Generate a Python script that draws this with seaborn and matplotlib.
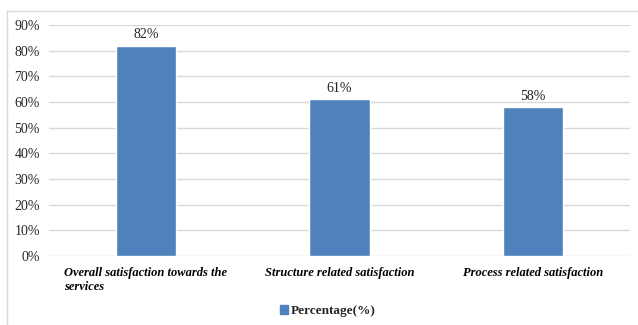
import matplotlib
matplotlib.use("Agg")
import matplotlib.pyplot as plt
import pandas as pd
import seaborn as sns
from matplotlib.lines import Line2D
from matplotlib.ticker import PercentFormatter

categories = ["Overall satisfaction towards the\nservices",
              "Structure related satisfaction",
              "Process related satisfaction"]
percentages = [82, 61, 58]
series_name = "Percentage(%)"
bar_color = "#4F81BD"

df = pd.DataFrame({"category": categories, "value": percentages,
                   "series": series_name})

sns.set_theme(style="white")
plt.rcParams["font.family"] = ["Liberation Serif", "DejaVu Serif"]

fig = plt.figure(figsize=(6.38, 3.25), dpi=100)
ax = fig.add_axes([49 / 638, 69 / 325, 581 / 638, 231 / 325])

sns.barplot(data=df, x="category", y="value", hue="series",
            palette=[bar_color], width=0.31, ax=ax, legend=False,
            saturation=1)

ax.set_ylim(0, 90)
ax.set_xlim(-0.5, 2.5)
ax.set_yticks(range(0, 91, 10))
ax.yaxis.set_major_formatter(PercentFormatter(decimals=0))
ax.grid(axis="y", color="#D9D9D9", linewidth=1)
ax.set_axisbelow(True)
for s in ax.spines.values():
    s.set_visible(False)
ax.set_xlabel("")
ax.set_ylabel("")
ax.tick_params(axis="y", labelsize=10, pad=6.5, length=0)
ax.tick_params(axis="x", length=0, pad=8)
for lbl in ax.get_yticklabels():
    lbl.set_color("#262626")
for lbl in ax.get_xticklabels():
    lbl.set_fontsize(9)
    lbl.set_fontweight("bold")
    lbl.set_fontstyle("italic")
    lbl.set_multialignment("left")
    lbl.set_verticalalignment("top")
    lbl.set_color("black")

for cont in ax.containers:
    ax.bar_label(cont, labels=[f"{v:.0f}%" for v in cont.datavalues],
                 padding=3, fontsize=10, color="#262626")

handle = plt.Rectangle((0, 0), 1, 1, color=bar_color)
fig.legend([handle], [series_name], loc="center", bbox_to_anchor=(328 / 638, 1 - 311 / 325),
           frameon=False, prop={"weight": "bold", "size": 9.5},
           handlelength=0.6, handleheight=0.6, handletextpad=0.2)

# outer chart border (top and left)
fig.add_artist(Line2D([7 / 638, 7 / 638], [0, 1 - 11 / 325], transform=fig.transFigure,
                      color="#D9D9D9", linewidth=1))
fig.add_artist(Line2D([7 / 638, 1], [1 - 11 / 325, 1 - 11 / 325], transform=fig.transFigure,
                      color="#D9D9D9", linewidth=1))

fig.savefig("out.png", dpi=100, facecolor="white")
